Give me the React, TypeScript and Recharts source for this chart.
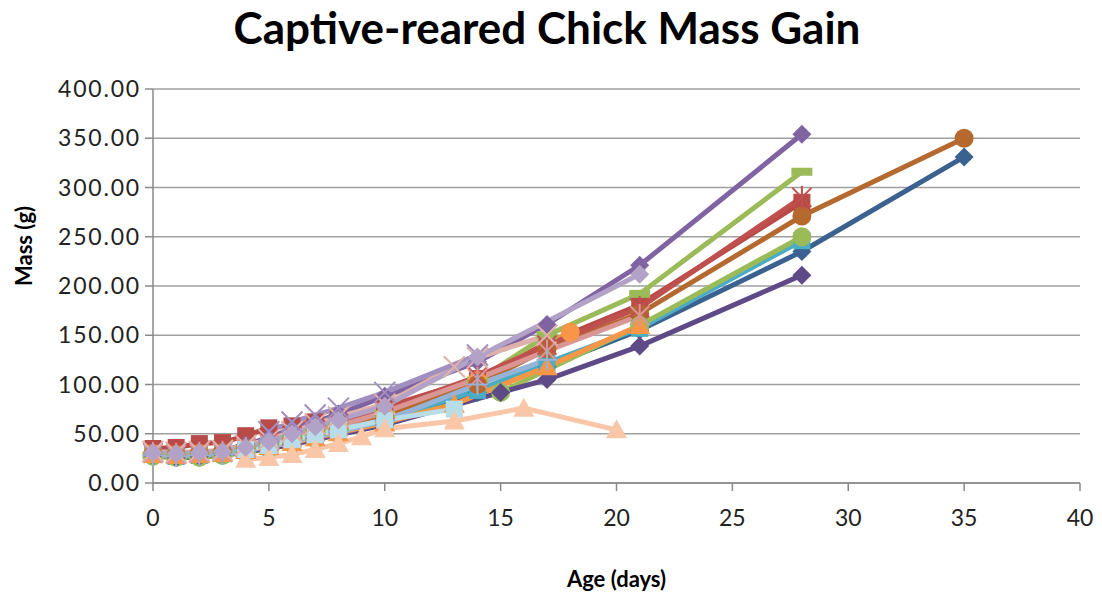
import { LineChart, Line, XAxis, YAxis, CartesianGrid, Label } from 'recharts';

// day / mass (g) per chick
const early = [0, 1, 2, 3, 4, 5, 6, 7, 8, 10];

const chick1Days = [...early, 14, 17, 21, 28, 35];
const chick1Mass = [30, 28, 29, 30, 33, 37, 42, 47, 52, 64, 92, 118, 155, 235, 331];

const chick2Days = [...early, 14, 17, 21, 28];
const chick2Mass = [35, 36, 40, 41, 48, 56, 58, 62, 66, 77, 106, 142, 181, 285];

const chick3Days = [...early, 14, 17, 21, 28];
const chick3Mass = [28, 27, 28, 30, 34, 39, 45, 51, 57, 70, 104, 150, 192, 316];

const chick4Days = [...early, 14, 17, 21, 28];
const chick4Mass = [31, 29, 31, 33, 39, 46, 55, 62, 70, 88, 123, 161, 221, 354];

const chick5Days = [...early, 14, 17, 21, 28];
const chick5Mass = [29, 27, 28, 30, 34, 38, 43, 48, 53, 64, 94, 122, 157, 246];

const chick6Days = [...early, 14, 18];
const chick6Mass = [30, 29, 30, 31, 35, 40, 45, 51, 57, 69, 104, 153];

const chick7Days = [...early, 14, 17, 21, 28, 35];
const chick7Mass = [29, 28, 29, 31, 35, 40, 46, 51, 57, 70, 100, 136, 172, 271, 350];

const chick8Days = [...early, 15, 21, 28];
const chick8Mass = [27, 26, 26, 28, 31, 35, 40, 45, 50, 62, 92, 160, 250];

const chick9Days = [...early, 15, 17, 21, 28];
const chick9Mass = [28, 26, 27, 29, 32, 35, 39, 44, 49, 59, 92, 105, 139, 211];

const chick10Days = [...early, 13, 17, 21];
const chick10Mass = [29, 28, 29, 30, 33, 37, 41, 46, 51, 61, 80, 118, 160];

const chick11Days = [...early, 14, 17, 21, 28];
const chick11Mass = [31, 30, 31, 32, 36, 42, 48, 54, 60, 74, 108, 140, 178, 290];

const chick12Days = [...early, 14, 17, 21];
const chick12Mass = [30, 29, 30, 31, 35, 40, 46, 52, 58, 72, 106, 134, 170];

const chick13Days = [...early, 14, 17];
const chick13Mass = [28, 27, 28, 29, 33, 37, 42, 47, 52, 63, 100, 125];

const chick14Days = [4, 5, 6, 7, 8, 10, 13];
const chick14Mass = [34, 38, 44, 49, 54, 64, 75];

const chick15Days = [4, 5, 6, 7, 8, 9, 10, 13, 16, 20];
const chick15Mass = [24, 26, 29, 34, 40, 47, 55, 63, 76, 54];

const chick16Days = [...early, 13, 14, 17];
const chick16Mass = [32, 31, 32, 33, 38, 44, 52, 60, 67, 80, 118, 127, 150];

const chick17Days = [5, 6, 7, 8, 10, 14];
const chick17Mass = [52, 62, 69, 76, 92, 130];

const chick18Days = [...early, 14, 21];
const chick18Mass = [31, 30, 31, 32, 36, 42, 50, 57, 64, 78, 128, 212];

const xTicks = [0, 5, 10, 15, 20, 25, 30, 35, 40];
const yTicks = [0, 50, 100, 150, 200, 250, 300, 350, 400];

type Shape = 'diamond' | 'square' | 'triangle' | 'circle' | 'x' | 'star' | 'dash' | 'plus';

const zip = (days: number[], mass: number[]) => days.map((x, i) => ({ x, y: mass[i] }));

const series: { name: string; color: string; shape: Shape; data: { x: number; y: number }[] }[] = [
  { name: 'chick1', color: '#3A6190', shape: 'diamond', data: zip(chick1Days, chick1Mass) },
  { name: 'chick2', color: '#B84A47', shape: 'square', data: zip(chick2Days, chick2Mass) },
  { name: 'chick3', color: '#9BBB59', shape: 'dash', data: zip(chick3Days, chick3Mass) },
  { name: 'chick4', color: '#8064A2', shape: 'diamond', data: zip(chick4Days, chick4Mass) },
  { name: 'chick5', color: '#4BACC6', shape: 'square', data: zip(chick5Days, chick5Mass) },
  { name: 'chick6', color: '#F79646', shape: 'circle', data: zip(chick6Days, chick6Mass) },
  { name: 'chick7', color: '#B5692F', shape: 'circle', data: zip(chick7Days, chick7Mass) },
  { name: 'chick8', color: '#9BBB59', shape: 'circle', data: zip(chick8Days, chick8Mass) },
  { name: 'chick9', color: '#5E4A87', shape: 'diamond', data: zip(chick9Days, chick9Mass) },
  { name: 'chick10', color: '#F79646', shape: 'triangle', data: zip(chick10Days, chick10Mass) },
  { name: 'chick11', color: '#C0504D', shape: 'star', data: zip(chick11Days, chick11Mass) },
  { name: 'chick12', color: '#D99694', shape: 'star', data: zip(chick12Days, chick12Mass) },
  { name: 'chick13', color: '#95B3D7', shape: 'plus', data: zip(chick13Days, chick13Mass) },
  { name: 'chick14', color: '#B7DDE8', shape: 'square', data: zip(chick14Days, chick14Mass) },
  { name: 'chick15', color: '#F9C6A8', shape: 'triangle', data: zip(chick15Days, chick15Mass) },
  { name: 'chick16', color: '#E0B0AA', shape: 'x', data: zip(chick16Days, chick16Mass) },
  { name: 'chick17', color: '#A18FC0', shape: 'x', data: zip(chick17Days, chick17Mass) },
  { name: 'chick18', color: '#B3A2C7', shape: 'diamond', data: zip(chick18Days, chick18Mass) }
];

function Marker({ cx, cy, shape, color }: { cx: number; cy: number; shape: Shape; color: string }) {
  if (cx == null || cy == null) return null;
  const s = 8.5;
  switch (shape) {
    case 'diamond':
      return <path d={`M${cx},${cy - s - 1}L${cx + s + 1},${cy}L${cx},${cy + s + 1}L${cx - s - 1},${cy}Z`} fill={color} />;
    case 'square':
      return <rect x={cx - s} y={cy - s} width={s * 2} height={s * 2} fill={color} />;
    case 'triangle':
      return <path d={`M${cx},${cy - s - 2}L${cx + s + 2},${cy + s}L${cx - s - 2},${cy + s}Z`} fill={color} />;
    case 'circle':
      return <circle cx={cx} cy={cy} r={s + 1} fill={color} />;
    case 'dash':
      return <rect x={cx - s - 2} y={cy - 4} width={s * 2 + 4} height={8} fill={color} />;
    case 'x':
      return (
        <g stroke={color} strokeWidth={2}>
          <line x1={cx - s - 2} y1={cy - s - 2} x2={cx + s + 2} y2={cy + s + 2} />
          <line x1={cx - s - 2} y1={cy + s + 2} x2={cx + s + 2} y2={cy - s - 2} />
        </g>
      );
    case 'plus':
      return (
        <g stroke={color} strokeWidth={2}>
          <line x1={cx - s - 2} y1={cy} x2={cx + s + 2} y2={cy} />
          <line x1={cx} y1={cy - s - 2} x2={cx} y2={cy + s + 2} />
        </g>
      );
    default:
      return (
        <g stroke={color} strokeWidth={2}>
          <line x1={cx - s - 1} y1={cy - s - 1} x2={cx + s + 1} y2={cy + s + 1} />
          <line x1={cx - s - 1} y1={cy + s + 1} x2={cx + s + 1} y2={cy - s - 1} />
          <line x1={cx} y1={cy - s - 3} x2={cx} y2={cy + s + 3} />
        </g>
      );
  }
}

export default function App() {
  const font = 'Lato, "Open Sans", sans-serif';
  return (
    <div style={{ position: 'absolute', left: 0, top: 0, width: 1102, height: 598, background: '#fff', fontFamily: font }}>
      <div
        style={{
          position: 'absolute',
          left: 0,
          top: 1,
          width: 1094,
          textAlign: 'center',
          fontSize: 44,
          fontWeight: 700,
          color: '#000'
        }}>
        Captive-reared Chick Mass Gain
      </div>
      <LineChart width={1102} height={598} margin={{ top: 89, right: 22, bottom: 75, left: 0 }}>
        <CartesianGrid vertical={false} stroke='#A0A0A0' strokeWidth={1.5} />
        <XAxis
          type='number'
          dataKey='x'
          domain={[0, 40]}
          ticks={xTicks}
          height={40}
          tickSize={8}
          tickMargin={19}
          stroke='#888'
          strokeWidth={1.5}
          tick={{ fill: '#222', fontSize: 23, fontFamily: font }}>
          <Label value='Age (days)' position='insideBottom' offset={-64} fill='#000' fontSize={22} fontWeight={700} fontFamily={font} />
        </XAxis>
        <YAxis
          type='number'
          domain={[0, 400]}
          ticks={yTicks}
          width={153}
          tickSize={8}
          tickMargin={4}
          stroke='#888'
          strokeWidth={1.5}
          tickFormatter={(v: number) => v.toFixed(2)}
          tick={{ fill: '#222', fontSize: 23, fontFamily: font, letterSpacing: 1.8 }}>
          <Label value='Mass (g)' angle={-90} position='insideLeft' offset={24} fill='#000' fontSize={22} fontWeight={700} fontFamily={font} />
        </YAxis>
        {series.map((s) => (
          <Line
            key={s.name}
            data={s.data}
            dataKey='y'
            type='linear'
            stroke={s.color}
            strokeWidth={5}
            isAnimationActive={false}
            activeDot={false}
            dot={(p: any) => <Marker key={`${s.name}-${p.index}`} cx={p.cx} cy={p.cy} shape={s.shape} color={s.color} />}
          />
        ))}
      </LineChart>
    </div>
  );
}
